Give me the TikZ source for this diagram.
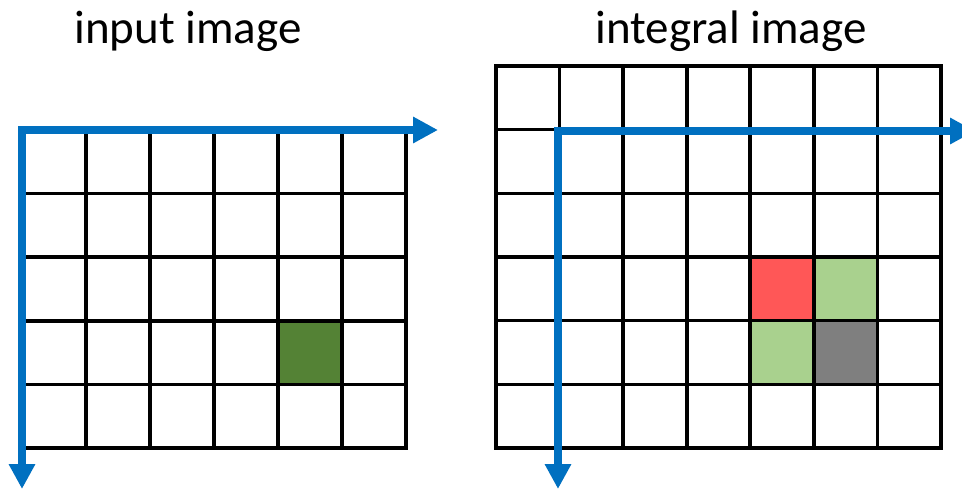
\documentclass[tikz,border=0pt]{standalone}
\usepackage{fontspec}
\setmainfont{Carlito}
\usetikzlibrary{arrows.meta}
\definecolor{axisblue}{HTML}{0070C0}
\definecolor{darkgreen}{HTML}{548235}
\definecolor{lightgreen}{HTML}{A9D18E}
\definecolor{cellred}{HTML}{FF5757}
\definecolor{cellgray}{HTML}{7F7F7F}
\begin{document}
\begin{tikzpicture}[x=1pt,y=-1pt,
  gridline/.style={line width=3.6pt,black},
  axis/.style={line width=8.5pt,axisblue,line join=miter,
    {Triangle[length=25pt,width=25pt]}-{Triangle[length=25pt,width=25pt]}},
  title/.style={anchor=base,inner sep=0pt,font=\fontsize{47pt}{56pt}\selectfont}]
\useasboundingbox (0,0) rectangle (962,490);
\clip (0,0) rectangle (962,490);
\fill[white] (0,0) rectangle (962,490);
% titles
\node[title] (tin) at (188,43) {input image};
\node[title] (tint) at (731,43) {integral image};
% left grid: 6 cols x 5 rows
\def\lcw{64}\def\lrh{63.6}
\fill[darkgreen] ({22+4*\lcw},{130+3*\lrh}) rectangle ({22+5*\lcw},{130+4*\lrh});
\foreach \i in {1,...,5} \draw[gridline] ({22+\lcw*\i},130) -- ({22+\lcw*\i},448);
\foreach \j in {1,...,4} \draw[gridline] (22,{130+\lrh*\j}) -- (406,{130+\lrh*\j});
\draw[gridline] (22,130) rectangle (406,448);
% right grid: 7 cols x 6 rows
\def\rcw{63.571}\def\rrh{63.667}
\fill[cellred] ({496+4*\rcw},{66+3*\rrh}) rectangle ({496+5*\rcw},{66+4*\rrh});
\fill[lightgreen] ({496+5*\rcw},{66+3*\rrh}) rectangle ({496+6*\rcw},{66+4*\rrh});
\fill[lightgreen] ({496+4*\rcw},{66+4*\rrh}) rectangle ({496+5*\rcw},{66+5*\rrh});
\fill[cellgray] ({496+5*\rcw},{66+4*\rrh}) rectangle ({496+6*\rcw},{66+5*\rrh});
\foreach \i in {1,...,6} \draw[gridline] ({496+\rcw*\i},66) -- ({496+\rcw*\i},448);
\foreach \j in {1,...,5} \draw[gridline] (496,{66+\rrh*\j}) -- (941,{66+\rrh*\j});
\draw[gridline] (496,66) rectangle (941,448);
% axes
\coordinate (lx) at (438,130);
\coordinate (lo) at (22,130);
\coordinate (ly) at (22,489);
\draw[axis] (lx) -- (lo) -- (ly);
\coordinate (rx) at (975,131);
\coordinate (ro) at (558,131);
\coordinate (ry) at (558,489);
\draw[axis] (rx) -- (ro) -- (ry);
\end{tikzpicture}
\end{document}
